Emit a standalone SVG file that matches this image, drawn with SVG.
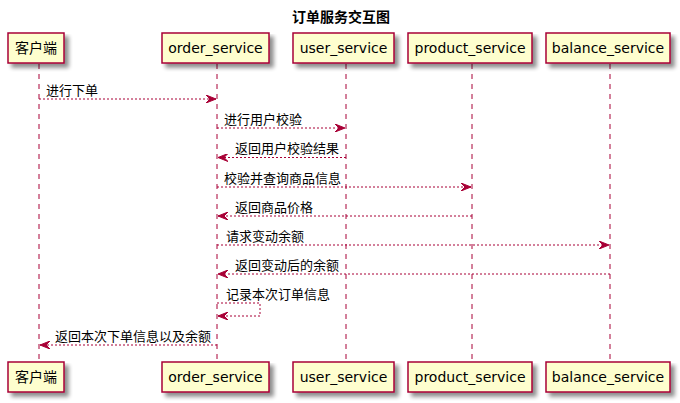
<svg xmlns="http://www.w3.org/2000/svg" width="680" height="403" viewBox="0 0 680 403">
<defs>
<filter id="sh" x="-10%" y="-10%" width="130%" height="150%">
<feGaussianBlur in="SourceAlpha" stdDeviation="2"/>
<feOffset dx="4" dy="4" result="b"/>
<feComponentTransfer><feFuncA type="linear" slope="0.45"/></feComponentTransfer>
<feMerge><feMergeNode/><feMergeNode in="SourceGraphic"/></feMerge>
</filter>
<marker id="ah" viewBox="0 0 10 8" refX="10" refY="4" markerWidth="10" markerHeight="8" markerUnits="userSpaceOnUse" orient="auto-start-reverse">
<polygon points="0,0 10,4 0,8 4,4" fill="#A80036" stroke="#A80036" stroke-width="1"/>
</marker>
</defs>
<style>
.box{fill:#FEFECE;stroke:#A80036;stroke-width:1.5}
.life{stroke:#A80036;stroke-width:1;stroke-dasharray:5,5;fill:none}
.msg{stroke:#A80036;stroke-width:1;stroke-dasharray:2,2;fill:none;marker-end:url(#ah)}
.pt{font-family:"DejaVu Sans","Noto Sans CJK SC",sans-serif;font-size:14px;fill:#000;text-anchor:middle}
.mt{font-family:"DejaVu Sans","Noto Sans CJK SC",sans-serif;font-size:13px;fill:#000}
.tt{font-family:"DejaVu Sans","Noto Sans CJK SC",sans-serif;font-size:14px;font-weight:bold;fill:#000;text-anchor:middle}
</style>
<rect width="680" height="403" fill="#FFFFFF"/>
<text class="tt" x="341" y="22">订单服务交互图</text>
<g id="lifelines">
<line class="life" x1="39" y1="64" x2="39" y2="362"/>
<line class="life" x1="217" y1="64" x2="217" y2="362"/>
<line class="life" x1="346" y1="64" x2="346" y2="362"/>
<line class="life" x1="472" y1="64" x2="472" y2="362"/>
<line class="life" x1="610" y1="64" x2="610" y2="362"/>
</g>
<g id="client">
<rect class="box" filter="url(#sh)" x="8" y="33" width="56" height="30"/>
<text class="pt" x="36" y="53">客户端</text>
<rect class="box" filter="url(#sh)" x="8" y="362" width="56" height="30"/>
<text class="pt" x="36" y="382">客户端</text>
</g>
<g id="order_service">
<rect class="box" filter="url(#sh)" x="162" y="33" width="107" height="30"/>
<text class="pt" x="215.5" y="53">order_service</text>
<rect class="box" filter="url(#sh)" x="162" y="362" width="107" height="30"/>
<text class="pt" x="215.5" y="382">order_service</text>
</g>
<g id="user_service">
<rect class="box" filter="url(#sh)" x="293" y="33" width="101" height="30"/>
<text class="pt" x="343.5" y="53">user_service</text>
<rect class="box" filter="url(#sh)" x="293" y="362" width="101" height="30"/>
<text class="pt" x="343.5" y="382">user_service</text>
</g>
<g id="product_service">
<rect class="box" filter="url(#sh)" x="408" y="33" width="124" height="30"/>
<text class="pt" x="470" y="53">product_service</text>
<rect class="box" filter="url(#sh)" x="408" y="362" width="124" height="30"/>
<text class="pt" x="470" y="382">product_service</text>
</g>
<g id="balance_service">
<rect class="box" filter="url(#sh)" x="546" y="33" width="124" height="30"/>
<text class="pt" x="608" y="53">balance_service</text>
<rect class="box" filter="url(#sh)" x="546" y="362" width="124" height="30"/>
<text class="pt" x="608" y="382">balance_service</text>
</g>
<g id="connectors">
<line class="msg" x1="39" y1="99" x2="216" y2="99"/>
<line class="msg" x1="217" y1="128" x2="345" y2="128"/>
<line class="msg" x1="346" y1="157.5" x2="218" y2="157.5"/>
<line class="msg" x1="217" y1="187" x2="471" y2="187"/>
<line class="msg" x1="472" y1="216" x2="218" y2="216"/>
<line class="msg" x1="217" y1="245" x2="609" y2="245"/>
<line class="msg" x1="610" y1="274" x2="218" y2="274"/>
<polyline class="msg" points="217,303 260,303 260,316 218,316"/>
<line class="msg" x1="217" y1="345" x2="40" y2="345"/>
</g>
<g id="labels">
<text class="mt" x="46" y="95">进行下单</text>
<text class="mt" x="224" y="124">进行用户校验</text>
<text class="mt" x="235" y="153">返回用户校验结果</text>
<text class="mt" x="224" y="183">校验并查询商品信息</text>
<text class="mt" x="235" y="212">返回商品价格</text>
<text class="mt" x="226" y="241">请求变动余额</text>
<text class="mt" x="235" y="270">返回变动后的余额</text>
<text class="mt" x="226" y="299">记录本次订单信息</text>
<text class="mt" x="55" y="341">返回本次下单信息以及余额</text>
</g>
</svg>
